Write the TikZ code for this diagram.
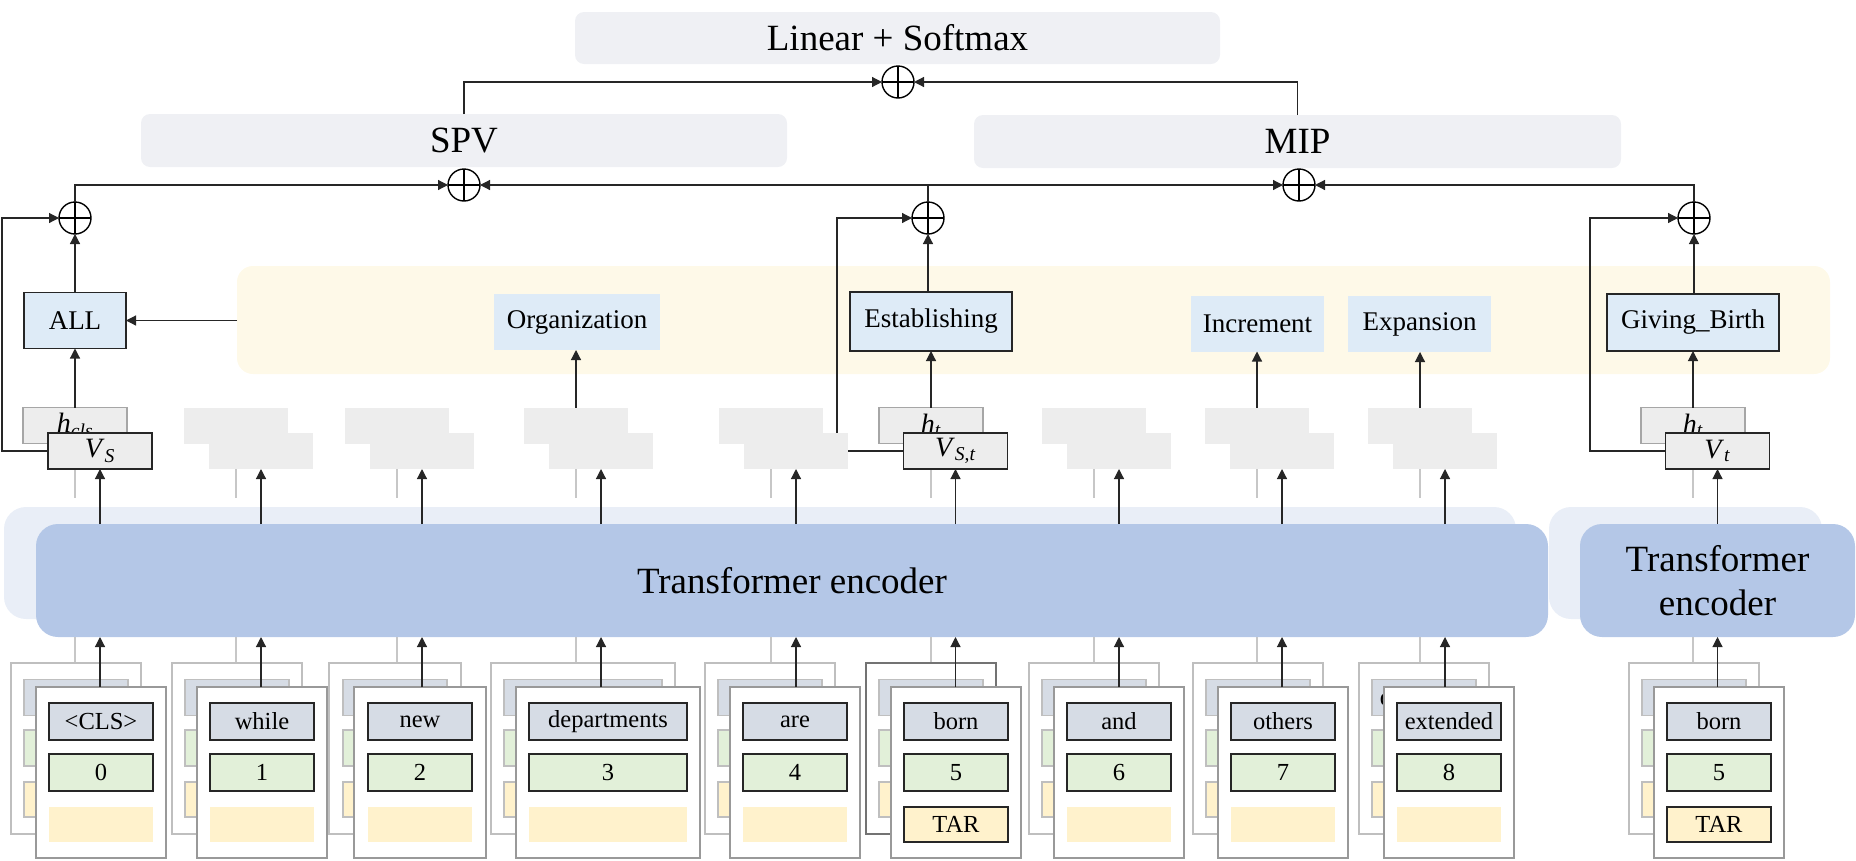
\documentclass[tikz,border=0pt]{standalone}
\usepackage{fontspec}
\setmainfont{Liberation Serif}
\usetikzlibrary{arrows.meta}
\definecolor{topbox}{HTML}{EFF0F4}
\definecolor{bandc}{HTML}{FEF9E8}
\definecolor{encback}{HTML}{E9EEF7}
\definecolor{encc}{HTML}{B4C7E7}
\definecolor{labc}{HTML}{DEEBF7}
\definecolor{gboxc}{HTML}{EDEDED}
\definecolor{tokc}{HTML}{D6DCE5}
\definecolor{numc}{HTML}{E2F0D9}
\definecolor{tarc}{HTML}{FFF2CC}
\newcommand\fbig{\fontsize{37}{44}\selectfont}
\newcommand\fsmall{\fontsize{24.5}{28}\selectfont}
\newcommand\flab{\fontsize{27}{30}\selectfont}
\newcommand\fmath{\fontsize{28}{30}\selectfont}
\pgfdeclarelayer{bg}
\pgfdeclarelayer{mid}
\pgfsetlayers{bg,mid,main}
\begin{document}
\begin{tikzpicture}[x=1pt,y=-1pt,
  bx/.style={inner sep=0pt,outer sep=0pt},
  arr/.style={-{Triangle[length=10pt,width=10pt]},line width=1.2pt,draw=black!85},
  glin/.style={draw=black!22,line width=1.3pt},
  gr/.style={bx,fill=gboxc,minimum width=104pt,minimum height=36pt},
  card/.style={bx,fill=white,line width=1.6pt,minimum height=171pt},
  itm/.style={bx,minimum height=36pt,line width=1.6pt},
  lab/.style={bx,fill=labc,minimum height=56pt,line width=1.6pt,font=\flab},
  op/.style={circle,draw,line width=1.4pt,minimum size=32pt,inner sep=0pt,outer sep=0pt,fill=white,
    path picture={\draw[line width=1.4pt] (path picture bounding box.north)--(path picture bounding box.south) (path picture bounding box.west)--(path picture bounding box.east);}},
  tbox/.style={bx,fill=topbox,rounded corners=9pt,font=\fbig},
  encs/.style={bx,rounded corners=22pt},
]
\useasboundingbox (0,0) rectangle (1856,860);

\begin{pgfonlayer}{bg}
\node[tbox,minimum width=645pt,minimum height=52pt] (lin) at (897.5,38) {Linear + Softmax};
\node[tbox,minimum width=646pt,minimum height=53pt] (spv) at (464,140.5) {SPV};
\node[tbox,minimum width=647pt,minimum height=53pt] (mip) at (1297.5,141.5) {MIP};
\node[bx,fill=bandc,rounded corners=16pt,minimum width=1593pt,minimum height=108pt] (band) at (1033.5,320) {};
\node[encs,fill=encback,minimum width=1512pt,minimum height=112pt] (encb) at (760,563) {};
\node[encs,fill=encc,minimum width=1512pt,minimum height=113pt,font=\fbig] (enc) at (792,580.5) {Transformer encoder};
\node[encs,fill=encback,minimum width=273pt,minimum height=112pt] (encrb) at (1685.5,563) {};
\node[encs,fill=encc,minimum width=275pt,minimum height=113pt,align=center,font=\fbig] (encr) at (1717.5,580.5) {Transformer\\encoder};
\end{pgfonlayer}

% sum nodes
\node[op] (opt) at (898,82) {};
\node[op] (ops) at (464,185) {};
\node[op] (opp) at (1299,185) {};
\node[op] (opl) at (75,218) {};
\node[op] (opm) at (928,218) {};
\node[op] (opr) at (1694,218) {};

% label boxes
\node[lab,draw=black!85,minimum width=102pt] (all) at (75,320.5) {ALL};
\node[lab,minimum width=166pt] (org) at (577,322) {Organization};
\node[lab,draw=black!85,minimum width=162pt,minimum height=59pt] (est) at (931,321.5) {Establishing};
\node[lab,minimum width=133pt] (inc) at (1257.5,323.5) {Increment};
\node[lab,minimum width=143pt] (expn) at (1419.5,324) {Expansion};
\node[lab,draw=black!85,minimum width=172pt,minimum height=57pt] (gb) at (1693,322.5) {Giving\_Birth};

% thin gray guide lines
\foreach \a in {100,261,422,601,796,956,1119,1282,1445,1718}{
  \draw[glin] (\a-25,443) -- (\a-25,498);
  \draw[glin] (\a-25,637) -- (\a-25,663);
}

% middle row
\foreach \i/\a in {1/261,2/422,3/601,4/796,6/1119,7/1282,8/1445}{
  \node[gr] (m\i a) at (\a-25,425.5) {};
  \node[gr] (m\i b) at (\a,451) {};
}
\node[gr,draw=black!35,line width=1.3pt] (m0a) at (75,425.5) {\fmath\textit{h}\textsubscript{\textit{cls}}};
\node[gr,draw=black!85,line width=1.6pt] (m0b) at (100,451) {\fmath\textit{V}\textsubscript{\textit{S}}};
\node[gr,draw=black!35,line width=1.3pt] (m5a) at (931,425.5) {\fmath\textit{h}\textsubscript{\textit{t}}};
\node[gr,draw=black!85,line width=1.6pt] (m5b) at (955.5,451) {\fmath\textit{V}\textsubscript{\textit{S},\textit{t}}};
\node[gr,draw=black!35,line width=1.3pt] (m9a) at (1693,425.5) {\fmath\textit{h}\textsubscript{\textit{t}}};
\node[gr,draw=black!85,line width=1.6pt] (m9b) at (1717.5,451) {\fmath\textit{V}\textsubscript{\textit{t}}};

% side connectors to the sum nodes (behind the gray boxes)
\begin{pgfonlayer}{mid}
\draw[arr] (m0b.west) -- (2,451) -- (2,218) -- (opl.west);
\draw[arr] (m5b.west) -- (837,451) -- (837,218) -- (opm.west);
\draw[arr] (m9b.west) -- (1590,451) -- (1590,218) -- (opr.west);
\end{pgfonlayer}

% token cards
\foreach \i/\a/\cc/\cw/\iw/\tok/\num/\tar/\e/\bc in {
  0/100/101/130/104/{<CLS>}/0/0/enc/25,
  1/261/262/130/104/while/1/0/enc/25,
  2/422/420/132/104/new/2/0/enc/25,
  3/601/608/184/158/departments/3/0/enc/25,
  4/796/795/130/104/are/4/0/enc/25,
  5/956/956/130/104/born/5/1/enc/55,
  6/1119/1119/130/104/and/6/0/enc/25,
  7/1282/1283/130/104/others/7/0/enc/25,
  8/1445/1449/130/104/extended/8/0/enc/25,
  9/1718/1719/130/104/born/5/1/encr/25}{
  \node[card,draw=black!\bc,minimum width=\cw pt] (bk\i) at (\cc-25,748.5) {};
  \node[itm,fill=tokc,draw=black!25,minimum width=\iw pt] (bt\i) at (\cc-25,697.5) {};
  \ifnum\i=8 \node[bx] at (\cc-25,697.5) {\fsmall extended}; \fi
  \node[itm,fill=numc,draw=black!25,minimum width=\iw pt] (bn\i) at (\cc-25,748) {};
  \node[itm,fill=tarc,draw=black!25,minimum width=\iw pt,minimum height=35pt] (by\i) at (\cc-25,799.5) {};
  \node[card,draw=black!40,minimum width=\cw pt] (card\i) at (\cc,772.5) {};
  \node[itm,fill=tokc,draw=black!85,minimum width=\iw pt,minimum height=37pt] (tok\i) at (\cc,721.5) {\fsmall\tok};
  \node[itm,fill=numc,draw=black!85,minimum width=\iw pt,minimum height=37pt] (num\i) at (\cc,772.5) {\fsmall\num};
  \ifnum\tar=1
    \node[itm,fill=tarc,draw=black!85,minimum width=\iw pt,minimum height=35pt] (tar\i) at (\cc,824.5) {\fsmall TAR};
  \else
    \node[itm,fill=tarc,minimum width=\iw pt,minimum height=35pt] (tar\i) at (\cc,824.5) {};
  \fi
  \draw[arr] (card\i.north -| m\i b) -- (\e.south -| m\i b);
  \draw[arr] (\e.north -| m\i b) -- (m\i b.south);
}

% middle row to labels
\draw[arr] (m0a.north) -- (m0a.north |- all.south);
\draw[arr] (m3a.north) -- (m3a.north |- org.south);
\draw[arr] (m5a.north) -- (m5a.north |- est.south);
\draw[arr] (m7a.north) -- (m7a.north |- inc.south);
\draw[arr] (m8a.north) -- (m8a.north |- expn.south);
\draw[arr] (m9a.north) -- (m9a.north |- gb.south);
\draw[arr] (band.west |- all.east) -- (all.east);

% labels to sum nodes
\draw[arr] (all.north) -- (opl.south);
\draw[arr] (opm |- est.north) -- (opm.south);
\draw[arr] (opr |- gb.north) -- (opr.south);

% sum tree
\draw[arr] (opl.north) |- (ops.west);
\draw[arr] (opm.north) |- (ops.east);
\draw[arr] (opm.north) |- (opp.west);
\draw[arr] (opr.north) |- (opp.east);
\draw[arr] (spv.north) |- (opt.west);
\draw[arr] (mip.north) |- (opt.east);
\end{tikzpicture}
\end{document}
